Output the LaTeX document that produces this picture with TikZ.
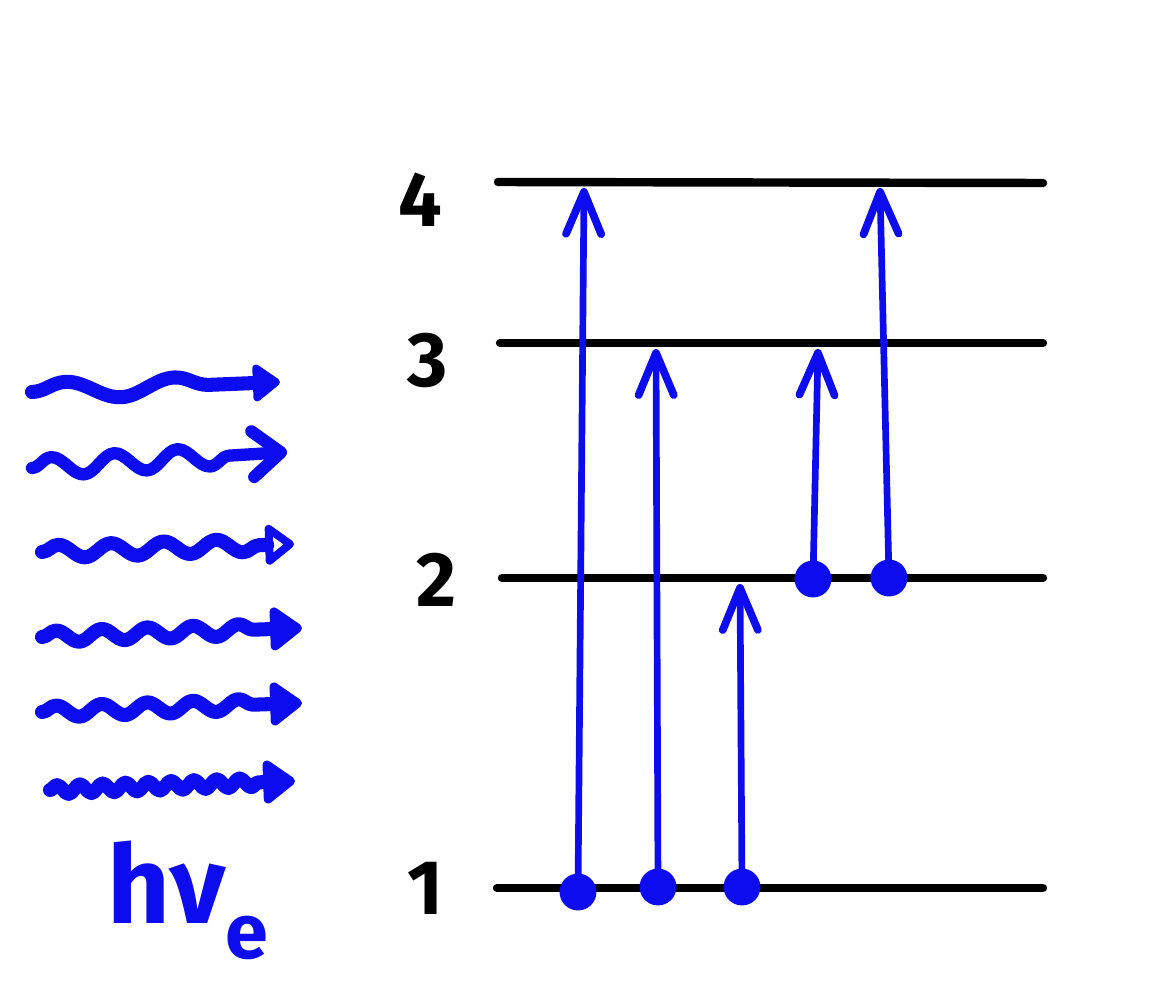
\documentclass[tikz,border=0pt]{standalone}
\usepackage{fontspec}
\setmainfont{Fira Sans}
\usetikzlibrary{arrows.meta,decorations.pathmorphing}
\definecolor{pen}{RGB}{12,12,238}
\begin{document}
\begin{tikzpicture}[x=0.02cm,y=-0.02cm,
  level/.style={line width=4.8pt, line cap=round},
  lab/.style={font=\fontsize{44}{44}\selectfont\bfseries, inner sep=0pt},
  jump/.style={pen, line width=3.8pt, line cap=round,
    -{Straight Barb[length=24pt,width=20pt,line width=4.4pt,round]}},
  dot/.style={circle, fill=pen, minimum size=21pt, inner sep=0pt},
  photon/.style={pen, line width=8pt, line cap=round, line join=round, decorate}
]
\useasboundingbox (0,0) rectangle (1159,983);

% energy levels
\coordinate (L4a) at (498,182); \coordinate (L4b) at (1043,183);
\coordinate (L3a) at (500,343); \coordinate (L3b) at (1043,343);
\coordinate (L2a) at (502,578); \coordinate (L2b) at (1043,578);
\coordinate (L1a) at (497,888); \coordinate (L1b) at (1043,888);
\draw[level] (L4a) -- (L4b);
\draw[level] (L3a) -- (L3b);
\draw[level] (L2a) -- (L2b);
\draw[level] (L1a) -- (L1b);

% level labels
\node[lab] (n4) at (420,200) {4};
\node[lab] (n3) at (428,360) {3};
\node[lab] (n2) at (436,580) {2};
\node[lab] (n1) at (425,888) {1};

% electrons
\node[dot] (d1) at (578,892) {};
\node[dot] (d2) at (658,887) {};
\node[dot] (d3) at (742,887) {};
\node[dot] (d4) at (813,579) {};
\node[dot] (d5) at (889,578) {};

% targets
\coordinate (t1) at (584,188);
\coordinate (t2) at (656,349);
\coordinate (t3) at (740,584);
\coordinate (t4) at (818,349);
\coordinate (t5) at (880,188);

\draw[jump] (d1.center) -- (t1);
\draw[jump] (d2.center) -- (t2);
\draw[jump] (d3.center) -- (t3);
\draw[jump] (d4.center) -- (t4);
\draw[jump] (d5.center) -- (t5);

% incoming photons
\coordinate (p1a) at (32,392); \coordinate (p1b) at (280,382);
\coordinate (p2a) at (32,468); \coordinate (p2b) at (287,452);
\coordinate (p3a) at (42,552); \coordinate (p3b) at (294,544);
\coordinate (p4a) at (42,637); \coordinate (p4b) at (302,628);
\coordinate (p5a) at (42,712); \coordinate (p5b) at (302,703);
\coordinate (p6a) at (50,790); \coordinate (p6b) at (295,781);

\draw[photon, decoration={snake, amplitude=5pt, segment length=62pt, post length=18pt},
  -{Triangle[length=17pt,width=24pt,round]}] (p1a) -- (p1b);
\draw[photon, line width=7pt, decoration={snake, amplitude=5.5pt, segment length=36pt, post length=16pt},
  -{Straight Barb[length=16pt,width=26pt,line width=7pt,round]}] (p2a) -- (p2b);
\draw[photon, decoration={snake, amplitude=3.8pt, segment length=30pt, post length=18pt},
  -{Triangle[open,length=18pt,width=26pt,line width=7pt,round]}] (p3a) -- (p3b);
\draw[photon, decoration={snake, amplitude=3.4pt, segment length=26pt, post length=18pt},
  -{Triangle[length=20pt,width=28pt,round]}] (p4a) -- (p4b);
\draw[photon, decoration={snake, amplitude=3.4pt, segment length=26pt, post length=18pt},
  -{Triangle[length=20pt,width=28pt,round]}] (p5a) -- (p5b);
\draw[photon, decoration={snake, amplitude=2.6pt, segment length=13pt, post length=18pt},
  -{Triangle[length=20pt,width=28pt,round]}] (p6a) -- (p6b);

% label
\node[pen, inner sep=0pt, font=\fontsize{62}{62}\selectfont\fontseries{sb}\selectfont] (hv) at (188,900)
  {hν\raisebox{-20pt}{\fontsize{44}{44}\selectfont e}};
\end{tikzpicture}
\end{document}
